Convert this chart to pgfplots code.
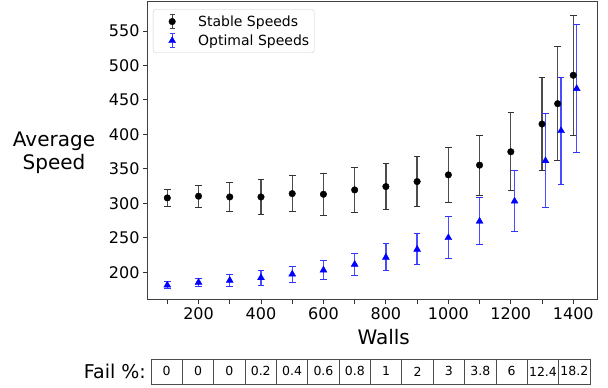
\documentclass[border=0pt]{standalone}
\usepackage{fontspec}
\setmainfont{DejaVu Sans}
\usepackage{pgfplots}
\pgfplotsset{compat=1.18}
\usepackage{pgfplotstable}

\pgfplotstableread{
x y e
100 308.0 12.4
200 310.5 15.7
300 309.4 21.4
400 309.4 25.4
500 314.2 26.0
600 313.3 30.6
700 319.6 32.9
800 324.4 33.7
900 331.7 35.6
1000 341.4 40.0
1100 355.5 43.6
1200 374.9 56.3
1300 415.1 67.9
1350 444.6 82.9
1400 485.8 86.7
}\stable

\pgfplotstableread{
x y e
100 181.5 5.1
200 185.5 6.3
300 188.4 8.3
400 192.2 10.6
500 197.5 11.6
600 203.3 13.8
700 211.6 16.2
800 221.8 19.4
900 233.4 22.3
1000 250.3 30.7
1100 274.1 34.2
1212 303.2 43.9
1311 361.8 68.3
1361 405.4 77.6
1411 466.4 93.3
}\optimal

\begin{document}
\begin{tikzpicture}
\useasboundingbox (0pt,0pt) rectangle (608pt,388pt);
\begin{axis}[
  at={(147pt,88pt)}, anchor=south west,
  width=450pt, height=298pt, scale only axis,
  xmin=35, xmax=1476, ymin=160, ymax=592,
  xtick={200,400,...,1400}, minor xtick={100,300,...,1300},
  ytick={200,250,...,550},
  tick align=outside, xtick pos=bottom, ytick pos=left,
  major tick length=4pt, minor tick length=4pt,
  every tick/.style={black!80, line width=0.9pt},
  axis line style={black!75, line width=1pt},
  tick label style={font=\fontsize{16}{18}\selectfont},
  /pgf/number format/assume math mode=true,
  /pgf/number format/1000 sep={},
  legend style={at={(0.0133,0.9755)}, anchor=north west, draw=black!20,
    rounded corners=2.5pt, font=\fontsize{14}{16}\selectfont,
    inner xsep=3pt, inner ysep=4pt, row sep=3pt},
  legend cell align=left,
]
\addplot[only marks, mark=*, mark size=3.3pt, black,
  legend image code/.code={
    \path[draw=none, fill=none] (0pt,0pt) -- (40pt,0pt);
    \draw[black!75, line width=1pt] (16pt,-7pt) -- (16pt,7pt)
      (13.5pt,-7pt) -- (18.5pt,-7pt) (13.5pt,7pt) -- (18.5pt,7pt);
    \draw[black, mark=*, mark size=3.3pt] plot coordinates {(16pt,0pt)};
  },
  error bars/.cd, y dir=both, y explicit,
  error bar style={black!70, line width=1.3pt},
  error mark options={rotate=90, mark size=3.3pt, black!80, line width=1pt}]
  table[x=x, y=y, y error=e] {\stable};
\addlegendentry{Stable Speeds}
\addplot[only marks, mark=triangle*, mark size=4pt, blue,
  legend image code/.code={
    \path[draw=none, fill=none] (0pt,0pt) -- (40pt,0pt);
    \draw[blue!75, line width=1pt] (16pt,-7pt) -- (16pt,7pt)
      (13.5pt,-7pt) -- (18.5pt,-7pt) (13.5pt,7pt) -- (18.5pt,7pt);
    \draw[blue, mark=triangle*, mark size=4pt] plot coordinates {(16pt,0pt)};
  },
  error bars/.cd, y dir=both, y explicit,
  error bar style={blue!70, line width=1.3pt},
  error mark options={rotate=90, mark size=3.3pt, blue!80, line width=1pt}]
  table[x=x, y=y, y error=e] {\optimal};
\addlegendentry{Optimal Speeds}
\end{axis}

\node[anchor=base, font=\fontsize{20}{24}\selectfont] at (54pt,241.3pt) {Average};
\node[anchor=base, font=\fontsize{20}{24}\selectfont] at (54pt,218pt) {Speed};
\node[anchor=base, font=\fontsize{20}{24}\selectfont] at (383.7pt,43pt) {Walls};

\node[anchor=east, inner sep=0pt, font=\fontsize{19}{22}\selectfont] at (146pt,17pt) {Fail \%:};
\foreach \v [count=\i from 0] in {0,0,0,0.2,0.4,0.6,0.8,1,2,3,3.8,6,12.4,18.2} {
  \draw[black!70, line width=0.8pt] (151pt+\i*31.36pt,3.7pt) rectangle ++(31.36pt,25.3pt);
  \node[inner sep=0pt, font=\fontsize{12.5}{14}\selectfont] at (151pt+\i*31.36pt+15.68pt,16.6pt) {\v};
}
\end{tikzpicture}
\end{document}
